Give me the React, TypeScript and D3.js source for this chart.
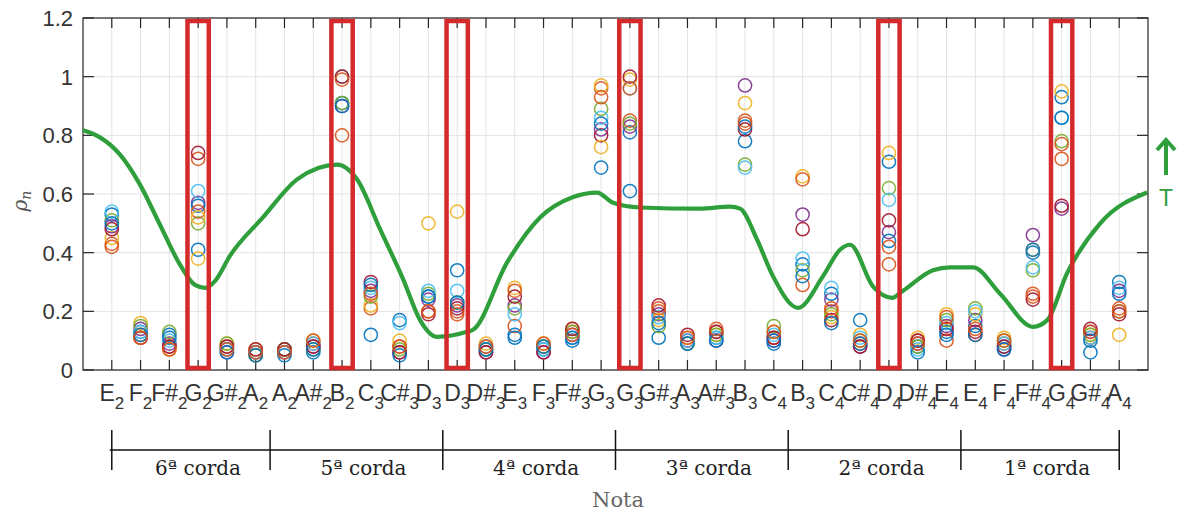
import React from "react";
import * as d3 from "d3";

// Note names and octaves along the x axis (six notes per string)
const noteNames = [
  "E", "F", "F#", "G", "G#", "A",
  "A", "A#", "B", "C", "C#", "D",
  "D", "D#", "E", "F", "F#", "G",
  "G", "G#", "A", "A#", "B", "C",
  "B", "C", "C#", "D", "D#", "E",
  "E", "F", "F#", "G", "G#", "A",
];
const noteOctaves = [
  2, 2, 2, 2, 2, 2,
  2, 2, 2, 3, 3, 3,
  3, 3, 3, 3, 3, 3,
  3, 3, 3, 3, 3, 4,
  3, 4, 4, 4, 4, 4,
  4, 4, 4, 4, 4, 4,
];

// rho_n samples per note, one row per note, grouped by string
const corda6 = [
  [0.53, 0.43, 0.45, 0.49, 0.51, 0.54, 0.48, 0.5, 0.42],
  [0.13, 0.12, 0.16, 0.14, 0.15, 0.13, 0.11, 0.12, 0.11],
  [0.12, 0.08, 0.07, 0.09, 0.13, 0.1, 0.08, 0.11, 0.07],
  [0.41, 0.72, 0.38, 0.57, 0.5, 0.61, 0.74, 0.56, 0.54, 0.52],
  [0.07, 0.08, 0.09, 0.06, 0.09, 0.07, 0.08, 0.06, 0.07],
  [0.06, 0.05, 0.07, 0.06, 0.05, 0.06, 0.07, 0.05, 0.06],
];
const corda5 = [
  [0.07, 0.06, 0.07, 0.06, 0.07, 0.06, 0.07, 0.05, 0.06],
  [0.06, 0.09, 0.1, 0.08, 0.07, 0.09, 0.08, 0.07, 0.1],
  [0.91, 0.8, 1.0, 0.9, 0.91, 1.0, 1.0, 0.9, 0.99],
  [0.12, 0.21, 0.22, 0.27, 0.25, 0.28, 0.3, 0.29, 0.26],
  [0.17, 0.08, 0.1, 0.06, 0.07, 0.16, 0.06, 0.05, 0.08],
  [0.25, 0.2, 0.5, 0.24, 0.26, 0.27, 0.19, 0.25, 0.2],
];
const corda4 = [
  [0.34, 0.2, 0.54, 0.22, 0.23, 0.27, 0.21, 0.23, 0.19],
  [0.07, 0.08, 0.09, 0.06, 0.07, 0.08, 0.06, 0.07, 0.08],
  [0.12, 0.15, 0.28, 0.22, 0.21, 0.19, 0.25, 0.11, 0.27],
  [0.07, 0.08, 0.09, 0.06, 0.08, 0.07, 0.06, 0.08, 0.09],
  [0.1, 0.13, 0.14, 0.12, 0.13, 0.11, 0.14, 0.11, 0.12],
  [0.69, 0.96, 0.97, 0.82, 0.89, 0.86, 0.8, 0.84, 0.93, 0.76],
];
const corda3 = [
  [0.81, 0.85, 0.99, 0.83, 0.84, 0.96, 1.0, 0.61, 0.96],
  [0.11, 0.2, 0.17, 0.19, 0.15, 0.18, 0.22, 0.16, 0.21],
  [0.09, 0.1, 0.11, 0.1, 0.09, 0.1, 0.12, 0.09, 0.11],
  [0.11, 0.13, 0.12, 0.1, 0.12, 0.11, 0.13, 0.1, 0.14],
  [0.78, 0.85, 0.91, 0.97, 0.7, 0.69, 0.82, 0.83, 0.84],
  [0.09, 0.11, 0.13, 0.1, 0.15, 0.12, 0.11, 0.1, 0.13],
];
const corda2 = [
  [0.36, 0.29, 0.66, 0.53, 0.34, 0.38, 0.48, 0.32, 0.65],
  [0.26, 0.2, 0.18, 0.24, 0.19, 0.28, 0.17, 0.16, 0.21],
  [0.17, 0.09, 0.12, 0.08, 0.1, 0.11, 0.08, 0.09, 0.1],
  [0.71, 0.36, 0.74, 0.47, 0.62, 0.58, 0.51, 0.44, 0.42],
  [0.08, 0.1, 0.11, 0.09, 0.08, 0.07, 0.1, 0.06, 0.09],
  [0.13, 0.1, 0.19, 0.15, 0.17, 0.16, 0.14, 0.12, 0.18],
];
const corda1 = [
  [0.15, 0.12, 0.19, 0.17, 0.21, 0.2, 0.13, 0.12, 0.14],
  [0.08, 0.09, 0.11, 0.07, 0.1, 0.09, 0.08, 0.07, 0.1],
  [0.4, 0.25, 0.41, 0.46, 0.34, 0.35, 0.24, 0.41, 0.26],
  [0.93, 0.72, 0.95, 0.55, 0.78, 0.86, 0.56, 0.86, 0.77],
  [0.06, 0.11, 0.12, 0.13, 0.12, 0.11, 0.14, 0.1, 0.13],
  [0.3, 0.21, 0.12, 0.27, 0.2, 0.28, 0.19, 0.26, 0.2],
];

// Threshold curve T (x in note positions, y in rho_n)
const thresholdX = [
  0, 0.59, 1.28, 1.98, 2.67, 3.37, 3.89, 4.24, 4.6, 5.11, 6.25, 7.44, 8.83, 9.52,
  10.32, 11.12, 11.71, 12.3, 13.34, 13.55, 14.73, 15.88, 17.03, 17.86, 18.42,
  19.35, 21.44, 22.48, 22.83, 23.42, 23.97, 24.84, 25.71, 26.3, 26.65, 27.45,
  28.11, 28.49, 29.53, 30.13, 30.92, 31.86, 33.01, 33.5, 34.19, 35.34, 36.97,
];
const thresholdY = [
  0.817, 0.793, 0.735, 0.632, 0.496, 0.359, 0.29, 0.28, 0.305, 0.39, 0.52, 0.65, 0.7, 0.65,
  0.48, 0.31, 0.17, 0.113, 0.13, 0.137, 0.366, 0.52, 0.59, 0.605, 0.57,
  0.554, 0.55, 0.557, 0.55, 0.444, 0.32, 0.212, 0.32, 0.41, 0.427, 0.284,
  0.246, 0.27, 0.34, 0.35, 0.35, 0.26, 0.147, 0.17, 0.33, 0.5, 0.605,
];

// Highlighted notes (positions on the x axis)
const highlighted = [4, 9, 13, 19, 28, 34];

// String groups under the axis
const stringBounds = [1, 6.5, 12.5, 18.5, 24.5, 30.5, 36];
const stringLabels = ["6ª corda", "5ª corda", "4ª corda", "3ª corda", "2ª corda", "1ª corda"];

const yTicks = [0, 0.2, 0.4, 0.6, 0.8, 1, 1.2];

const palette = ["#0072BD", "#D95319", "#EDB120", "#7E2F8E", "#77AC30", "#4DBEEE", "#A2142F"];

const W = 1184;
const H = 512;
const left = 83;
const right = 1148;
const top = 18;
const bottom = 370;

export default function App() {
  const x = d3.scaleLinear().domain([0, 37]).range([left, right]);
  const y = d3.scaleLinear().domain([0, 1.2]).range([bottom, top]);

  const notes = [...corda6, ...corda5, ...corda4, ...corda3, ...corda2, ...corda1];
  const positions = d3.range(1, notes.length + 1);

  const line = d3
    .line<number>()
    .x((i) => x(thresholdX[i]))
    .y((i) => y(thresholdY[i]))
    .curve(d3.curveMonotoneX);
  const tPath = line(d3.range(thresholdX.length)) || "";

  const green = "#2f9f3c";
  const axisColor = "#262626";
  const sans = "'Liberation Sans', Arial, Helvetica, sans-serif";
  const serif = "'DejaVu Serif', serif";

  const bracketY = 450;

  return (
    <svg
      width={W}
      height={H}
      style={{ position: "absolute", left: 0, top: 0, background: "#fff" }}
    >
      <rect x={0} y={0} width={W} height={H} fill="#fff" />

      {/* grid */}
      {positions.map((p) => (
        <line key={"gx" + p} x1={x(p)} x2={x(p)} y1={top} y2={bottom} stroke="#e3e3e3" strokeWidth={1} />
      ))}
      {yTicks.map((t) => (
        <line key={"gy" + t} x1={left} x2={right} y1={y(t)} y2={y(t)} stroke="#e3e3e3" strokeWidth={1} />
      ))}

      {/* axis box and ticks */}
      <rect x={left} y={top} width={right - left} height={bottom - top} fill="none" stroke={axisColor} strokeWidth={1.2} />
      {positions.map((p) => (
        <g key={"tk" + p}>
          <line x1={x(p)} x2={x(p)} y1={bottom} y2={bottom - 10} stroke={axisColor} strokeWidth={1.2} />
          <line x1={x(p)} x2={x(p)} y1={top} y2={top + 10} stroke={axisColor} strokeWidth={1.2} />
        </g>
      ))}
      {yTicks.map((t) => (
        <g key={"ty" + t}>
          <line x1={left} x2={left + 11} y1={y(t)} y2={y(t)} stroke={axisColor} strokeWidth={1.2} />
          <line x1={right} x2={right - 11} y1={y(t)} y2={y(t)} stroke={axisColor} strokeWidth={1.2} />
          <text x={73} y={y(t) + 8} textAnchor="end" fontFamily={sans} fontSize={22} fill="#333">
            {String(t)}
          </text>
        </g>
      ))}

      {/* samples */}
      {notes.map((vals, ni) =>
        vals.map((v, si) => (
          <circle
            key={`c${ni}-${si}`}
            cx={x(positions[ni])}
            cy={y(v)}
            r={6.6}
            fill="none"
            stroke={palette[si % palette.length]}
            strokeWidth={1.5}
            strokeOpacity={0.9}
          />
        ))
      )}

      {/* threshold curve */}
      <path d={tPath} fill="none" stroke={green} strokeWidth={4.2} strokeLinejoin="round" />

      {/* highlighted notes */}
      {highlighted.map((p) => (
        <rect
          key={"hl" + p}
          x={x(p - 0.37)}
          y={top + 3}
          width={x(p + 0.37) - x(p - 0.37)}
          height={bottom - top - 5}
          fill="none"
          stroke="#d42a2c"
          strokeWidth={4.5}
        />
      ))}

      {/* T marker */}
      <line x1={1166} x2={1166} y1={175} y2={141} stroke={green} strokeWidth={4} />
      <path d="M1157,150 L1166,140 L1175,150" fill="none" stroke={green} strokeWidth={4} strokeLinejoin="miter" />
      <text x={1166} y={206} textAnchor="middle" fontFamily={sans} fontSize={23} fill={green}>
        T
      </text>

      {/* x tick labels */}
      {positions.map((p, i) => (
        <text key={"xl" + p} x={x(p)} y={401} textAnchor="middle" fontFamily={sans} fontSize={23} fill="#333">
          <tspan>{noteNames[i]}</tspan>
          <tspan fontSize={17} dy={8}>
            {noteOctaves[i]}
          </tspan>
        </text>
      ))}

      {/* y label */}
      <text
        transform={`translate(27,201) rotate(-90)`}
        textAnchor="middle"
        fontFamily={serif}
        fontSize={20}
        fill="#555"
      >
        <tspan fontStyle="italic">ρ</tspan>
        <tspan fontSize={14} dy={4} fontStyle="italic">
          n
        </tspan>
      </text>

      {/* string groups */}
      <line x1={x(stringBounds[0]) - 2} x2={x(stringBounds[stringBounds.length - 1])} y1={bracketY} y2={bracketY} stroke="#111" strokeWidth={1.5} />
      {stringBounds.map((b) => (
        <line key={"sb" + b} x1={x(b)} x2={x(b)} y1={bracketY - 20} y2={bracketY + 20} stroke="#111" strokeWidth={1.5} />
      ))}
      {stringLabels.map((lbl, i) => (
        <text
          key={lbl}
          x={(x(stringBounds[i]) + x(stringBounds[i + 1])) / 2 + 7}
          y={475}
          textAnchor="middle"
          fontFamily={serif}
          fontSize={20}
          fill="#222"
        >
          {lbl}
        </text>
      ))}

      <text x={618} y={507} textAnchor="middle" fontFamily={serif} fontSize={21} fill="#666">
        Nota
      </text>
    </svg>
  );
}
